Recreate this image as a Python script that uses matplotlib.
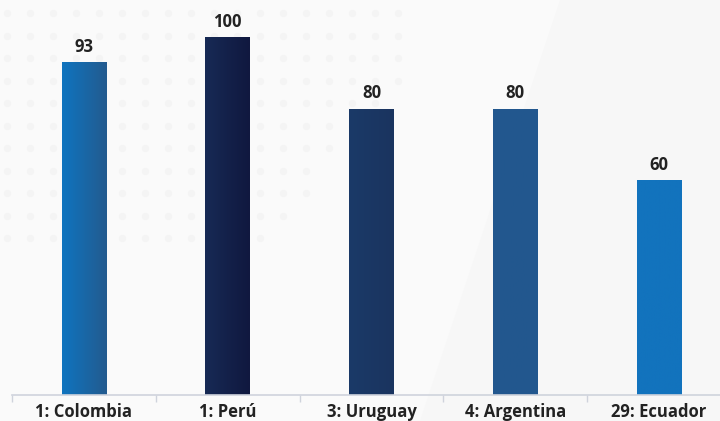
import matplotlib
matplotlib.use("Agg")
import matplotlib.pyplot as plt
import numpy as np
from matplotlib.colors import LinearSegmentedColormap

categories = ["1: Colombia", "1: Perú", "3: Uruguay", "4: Argentina", "29: Ecuador"]
values = [93, 100, 80, 80, 60]
grad_left = ["#0f74bf", "#172a55", "#1b3a68", "#22578f", "#1273bd"]
grad_right = ["#235b8f", "#10183f", "#1a345f", "#22588e", "#1273bd"]

FONT = ["Open Sans", "DejaVu Sans"]

fig = plt.figure(figsize=(7.2, 4.21), dpi=100)
fig.patch.set_facecolor("#fafafa")

# background decoration: faint dot grid
bg = fig.add_axes([0, 0, 1, 1], zorder=0)
bg.set_xlim(0, 720); bg.set_ylim(421, 0); bg.axis("off")
bg.fill([560, 720, 720, 420], [0, 0, 421, 421], color="#f7f7f7", lw=0)
gx, gy = np.meshgrid(np.arange(7, 420, 23), np.arange(13, 260, 22.5))
mask = (gx + gy * 0.9) < 480
bg.scatter(gx[mask], gy[mask], s=28, color="#f4f4f4", lw=0)

ax = fig.add_axes([12 / 720, 26 / 421, 1 - 12 / 720, 395 / 421], zorder=1)
ax.patch.set_alpha(0)
x = np.arange(len(categories))
bars = ax.bar(x, values, width=0.31, color="none", edgecolor="none")
for b, cl, cr in zip(bars, grad_left, grad_right):
    cmap = LinearSegmentedColormap.from_list("g", [cl, cr])
    grad = np.linspace(0, 1, 64).reshape(1, -1)
    ax.imshow(grad, cmap=cmap, aspect="auto",
              extent=[b.get_x(), b.get_x() + b.get_width(), 0, b.get_height()],
              zorder=2)
for xi, v in zip(x, values):
    ax.text(xi, v + 2.0, str(v), ha="center", va="bottom", fontsize=12,
            fontweight="bold", color="#222222", family=FONT)

for s in ["top", "right", "left"]:
    ax.spines[s].set_visible(False)
ax.spines["bottom"].set_color("#cfd3dc")
ax.spines["bottom"].set_linewidth(1.2)
ax.set_yticks([])
ax.set_xticks(np.arange(-0.5, 5, 1), minor=False)
ax.set_xticklabels([])
ax.tick_params(axis="x", length=5, color="#cfd3dc", width=1, direction="out")
ax.set_xticks(x, minor=True)
ax.set_xticklabels(categories, minor=True, fontsize=12, fontweight="bold",
                   color="#222222", family=FONT)
ax.tick_params(axis="x", which="minor", length=0, pad=6)
ax.set_xlim(-0.5, 4.424)
ax.set_ylim(0, 110.6)

fig.savefig("out.png", dpi=100, facecolor=fig.get_facecolor())
